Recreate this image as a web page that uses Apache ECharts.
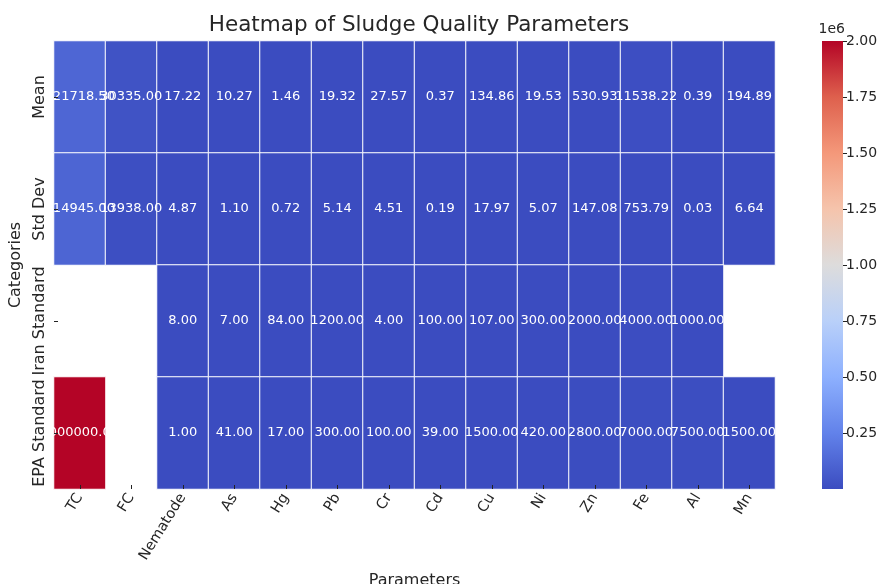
<!DOCTYPE html>
<html>
<head>
<meta charset="utf-8">
<script src="https://cdn.jsdelivr.net/npm/echarts@6/dist/echarts.min.js"></script>
<style>html,body{margin:0;padding:0;background:#fff}#c{width:888px;height:584px}</style>
</head>
<body>
<div id="c"></div>
<script>
const parameters = ['TC','FC','Nematode','As','Hg','Pb','Cr','Cd','Cu','Ni','Zn','Fe','Al','Mn'];
const categories = ['Mean','Std Dev','Iran Standard','EPA Standard'];
const meanValues = [121718.50, 30335.00, 17.22, 10.27, 1.46, 19.32, 27.57, 0.37, 134.86, 19.53, 530.93, 11538.22, 0.39, 194.89];
const stdValues  = [114945.00, 13938.00, 4.87, 1.10, 0.72, 5.14, 4.51, 0.19, 17.97, 5.07, 147.08, 753.79, 0.03, 6.64];
const iranValues = [null, null, 8.00, 7.00, 84.00, 1200.00, 4.00, 100.00, 107.00, 300.00, 2000.00, 4000.00, 1000.00, null];
const epaValues  = [2000000.00, null, 1.00, 41.00, 17.00, 300.00, 100.00, 39.00, 1500.00, 420.00, 2800.00, 7000.00, 7500.00, 1500.00];
const colorbarTicks = [0.25, 0.50, 0.75, 1.00, 1.25, 1.50, 1.75, 2.00];
const colorScaleMax = 2000000;

const rows = [meanValues, stdValues, iranValues, epaValues];
const heatData = [];
rows.forEach((r, yi) => r.forEach((v, xi) => { if (v !== null) heatData.push([xi, yi, v]); }));

const coolwarm = ['#3b4cc0','#6282ea','#8db0fe','#b9d0f9','#dddcdc','#f5c4ac','#f4987a','#de604d','#b40426'];
const font = 'DejaVu Sans';
const txt = '#262626';
const cbValues = colorbarTicks.map(t => t * 1e6);

const chart = echarts.init(document.getElementById('c'));
chart.setOption({
  backgroundColor: '#fff',
  animation: false,
  textStyle: { fontFamily: font },
  title: [
    {
      text: 'Heatmap of Sludge Quality Parameters',
      left: 414, top: 9, textAlign: 'center',
      textStyle: { fontFamily: font, fontSize: 21.5, fontWeight: 'normal', color: txt }
    },
    {
      text: '1e6', left: 845, top: 22, textAlign: 'right', padding: 0,
      textStyle: { fontFamily: font, fontSize: 14, fontWeight: 'normal', color: txt }
    }
  ],
  grid: [
    { left: 54, top: 41, width: 721, height: 448, outerBoundsMode: 'none', containLabel: false },
    { left: 822, top: 41, width: 21, height: 448, outerBoundsMode: 'none', containLabel: false }
  ],
  xAxis: [
    {
      type: 'category', gridIndex: 0, data: parameters, z: 10,
      name: 'Parameters', nameLocation: 'middle', nameGap: 84,
      nameTextStyle: { fontFamily: font, fontSize: 16, color: txt },
      axisLine: { show: false },
      axisTick: { show: true, inside: true, alignWithLabel: true, length: 4, lineStyle: { color: '#222' } },
      axisLabel: { rotate: 58, fontSize: 14.5, color: txt, fontFamily: font, margin: 6, interval: 0 },
      splitLine: { show: false }
    },
    {
      type: 'category', gridIndex: 1, data: [''], show: false
    }
  ],
  yAxis: [
    {
      type: 'category', gridIndex: 0, data: categories, inverse: true, z: 10,
      name: 'Categories', nameLocation: 'middle', nameGap: 27, nameRotate: 90,
      nameTextStyle: { fontFamily: font, fontSize: 16, color: txt },
      axisLine: { show: false },
      axisTick: { show: true, inside: true, alignWithLabel: true, length: 4, lineStyle: { color: '#222' } },
      axisLabel: { rotate: 90, fontSize: 16, color: txt, fontFamily: font, margin: 6, interval: 0 },
      splitLine: { show: false }
    },
    {
      type: 'value', gridIndex: 1, position: 'right', min: 0, max: colorScaleMax, interval: 250000,
      axisLine: { show: false },
      axisTick: { show: true, length: 4, lineStyle: { color: '#222' }, customValues: cbValues },
      axisLabel: {
        fontSize: 14, color: txt, fontFamily: font, margin: 3, customValues: cbValues,
        formatter: v => (v / 1e6).toFixed(2)
      },
      splitLine: { show: false }
    }
  ],
  visualMap: {
    show: false, seriesIndex: 0, min: 0, max: colorScaleMax,
    inRange: { color: coolwarm }
  },
  series: [
    {
      type: 'heatmap', xAxisIndex: 0, yAxisIndex: 0, data: heatData,
      itemStyle: { borderColor: '#ffffff', borderWidth: 1 },
      label: {
        show: true, color: '#ffffff', fontSize: 13, fontFamily: font,
        formatter: p => p.value[2].toFixed(2)
      },
      emphasis: { disabled: true }
    },
    {
      type: 'bar', xAxisIndex: 1, yAxisIndex: 1, data: [colorScaleMax], barWidth: '100%',
      silent: true,
      itemStyle: {
        color: new echarts.graphic.LinearGradient(0, 1, 0, 0,
          coolwarm.map((c, i) => ({ offset: i / (coolwarm.length - 1), color: c })))
      }
    }
  ]
});
</script>
</body>
</html>
